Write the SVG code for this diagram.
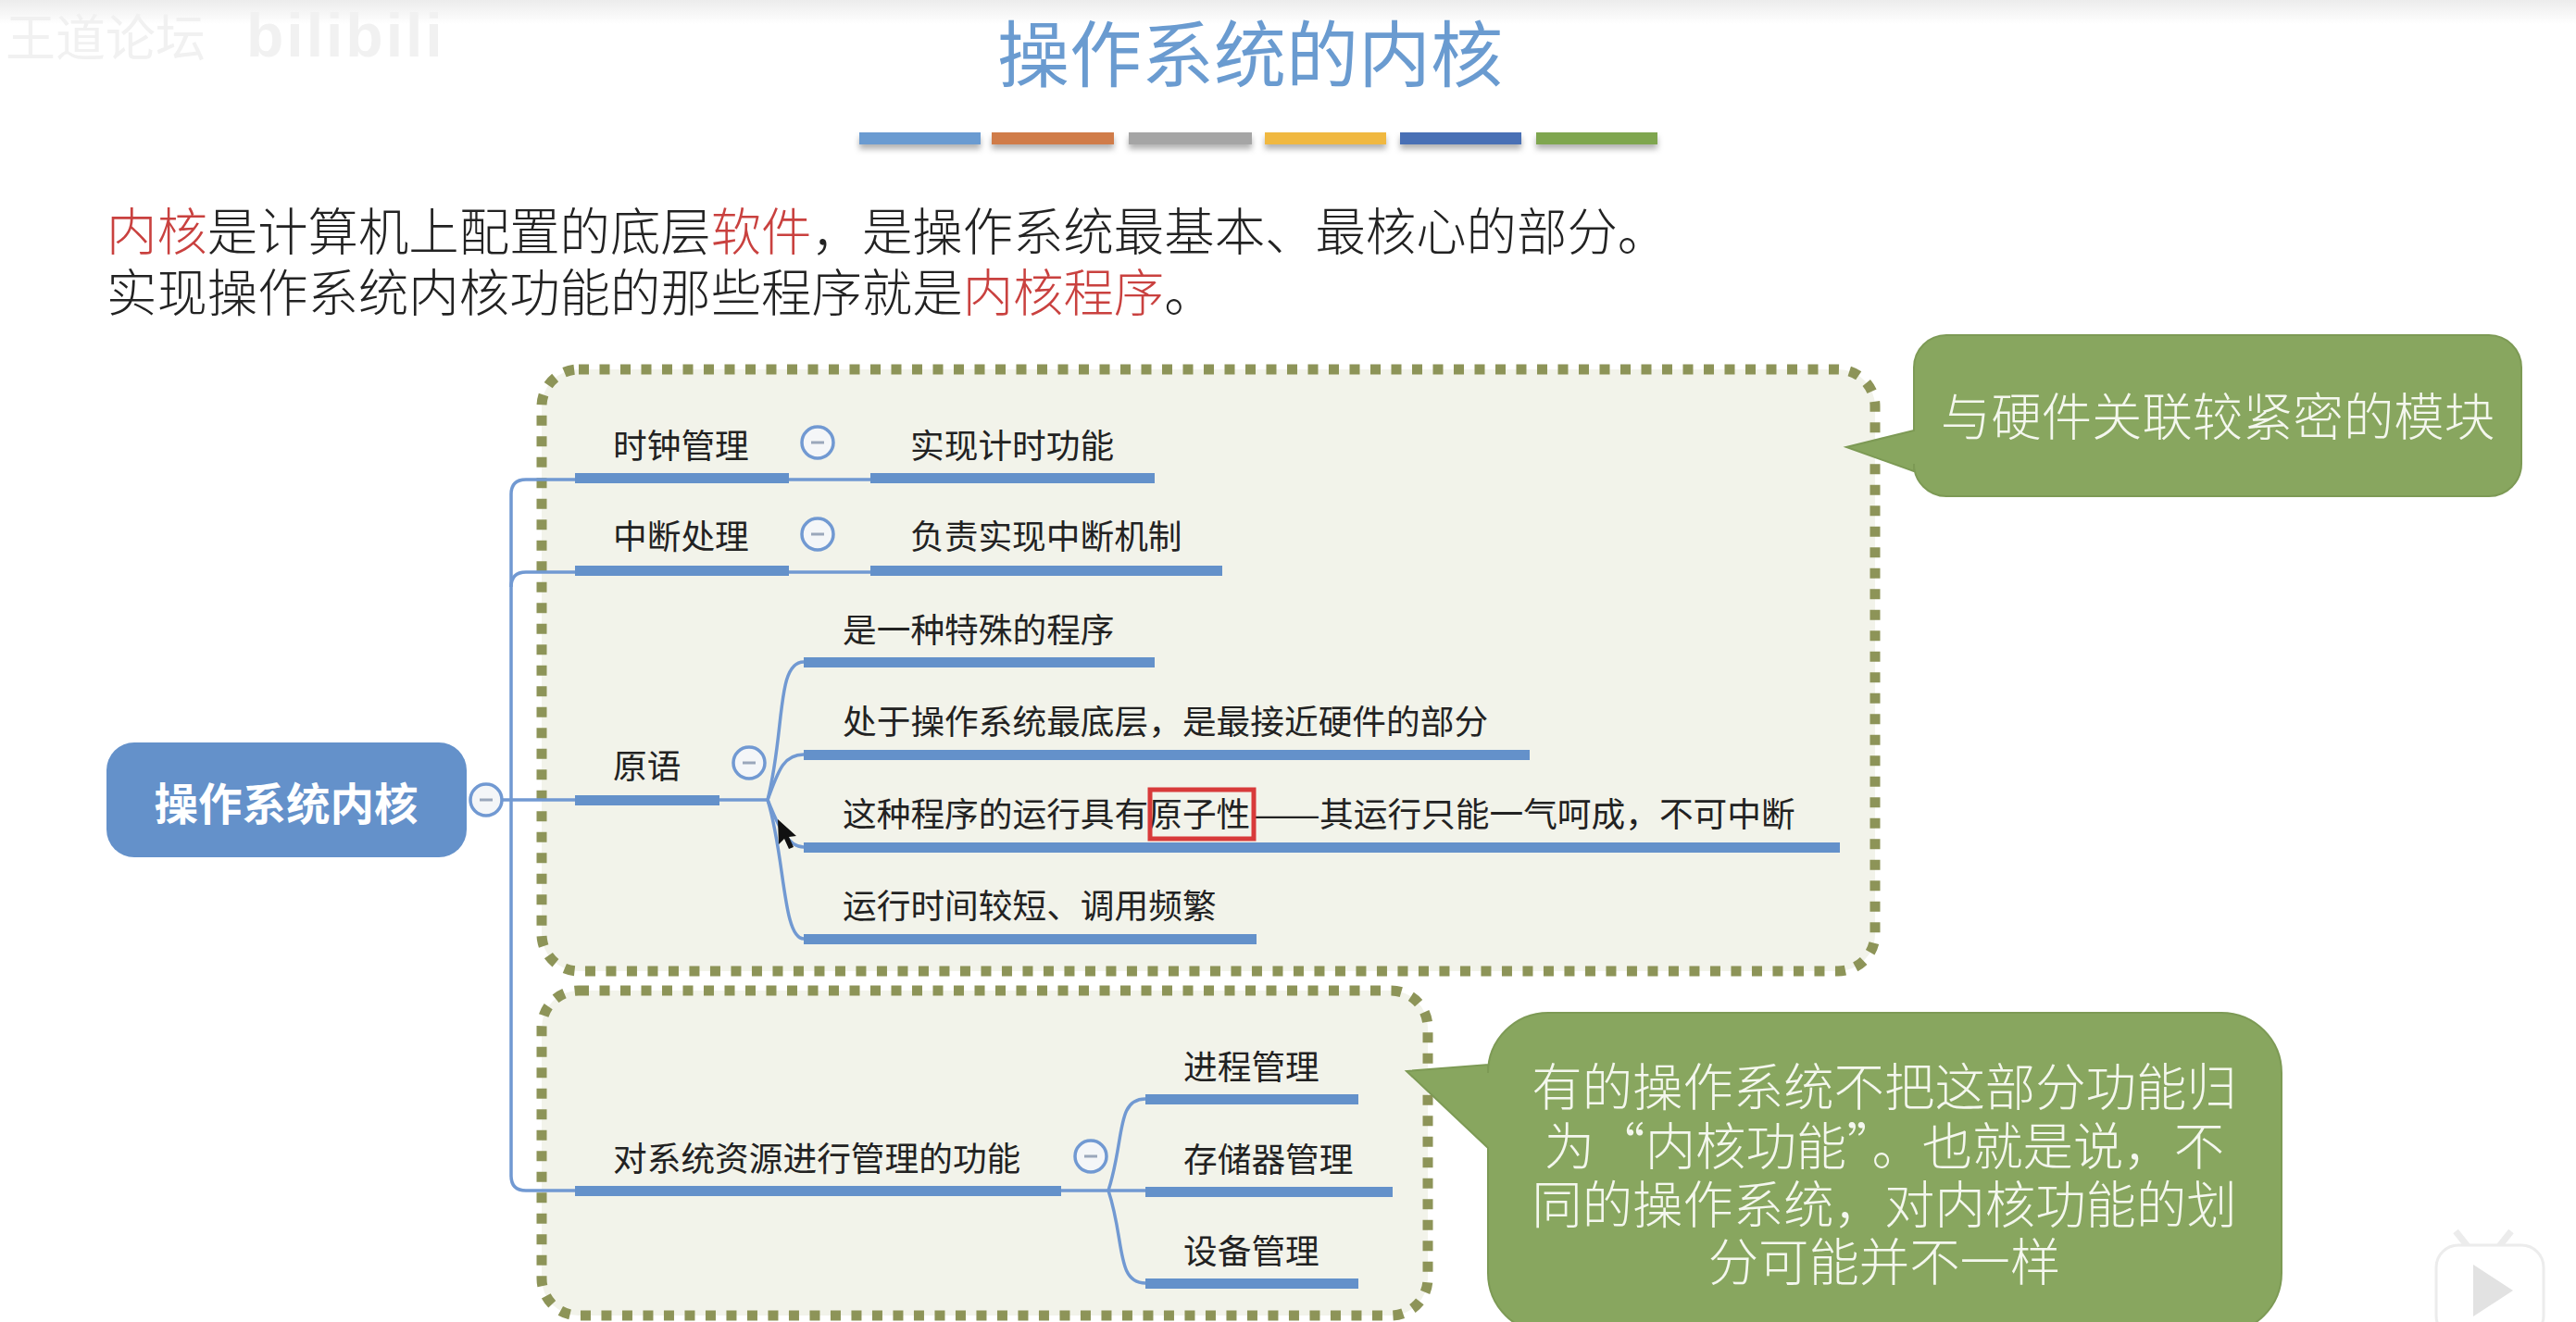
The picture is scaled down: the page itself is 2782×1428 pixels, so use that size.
<svg xmlns="http://www.w3.org/2000/svg" width="2782" height="1428" viewBox="0 0 2782 1428">
<style>
text{font-family:"Noto Sans CJK SC","Noto Sans",sans-serif;dominant-baseline:central}
.para{font-size:54.4px;font-weight:300;fill:#222}
.red{fill:#c9413f}
.n{font-size:36.7px;fill:#222}
.u{fill:#6491ca}
.c{fill:none;stroke:#7199d2;stroke-width:3.5}
.box{fill:#f2f3ea;stroke:#8d9458;stroke-width:11;stroke-dasharray:11 11.5}
.t circle{fill:#f4f6f8;stroke:#7199d2;stroke-width:3.5}
.t line{stroke:#9aa7bb;stroke-width:3}
.call{fill:#88a65f;stroke:#7d9a55;stroke-width:2}
.ct{font-size:54.4px;font-weight:300;fill:#f4f7ee;text-anchor:middle}
.wm{fill:#f1f1f1}
</style>
<defs>
<linearGradient id="top" x1="0" y1="0" x2="0" y2="1"><stop offset="0" stop-color="#ececec"/><stop offset="1" stop-color="#ffffff"/></linearGradient>
<filter id="sh" x="-10%" y="-50%" width="120%" height="250%"><feDropShadow dx="0" dy="5" stdDeviation="3" flood-color="#000" flood-opacity=".3"/></filter>
</defs>
<rect width="2782" height="1428" fill="#fff"/>
<rect width="2782" height="26" fill="url(#top)"/>
<g id="watermark">
<text class="wm" x="6" y="37" font-size="54">王道论坛</text>
<text class="wm" x="266" y="38" font-size="66" font-weight="700" letter-spacing="3" style="font-family:'Liberation Sans',sans-serif">bilibili</text>
</g>
<g id="title">
<text x="1350" y="54" font-size="78" fill="#6a9bd0" text-anchor="middle">操作系统的内核</text>
<g filter="url(#sh)">
<rect x="928" y="143" width="131" height="13" fill="#6b9bd1"/>
<rect x="1071" y="143" width="132" height="13" fill="#d07c4a"/>
<rect x="1219" y="143" width="133" height="13" fill="#a5a5a5"/>
<rect x="1366" y="143" width="131" height="13" fill="#f0b840"/>
<rect x="1512" y="143" width="131" height="13" fill="#4a6fb5"/>
<rect x="1659" y="143" width="131" height="13" fill="#7fa650"/>
</g>
</g>
<g id="intro">
<text class="para" x="115" y="246"><tspan class="red">内核</tspan>是计算机上配置的底层<tspan class="red">软件</tspan>，是操作系统最基本、最核心的部分。</text>
<text class="para" x="115" y="312">实现操作系统内核功能的那些程序就是<tspan class="red">内核程序</tspan>。</text>
</g>
<g id="frames">
<rect id="frame-1" class="box" x="585" y="399" width="1440" height="650" rx="40"/>
<rect id="frame-2" class="box" x="585" y="1070" width="957" height="351" rx="40"/>
</g>
<g id="connectors">
<path class="c" d="M525 864H829"/>
<path class="c" d="M621 518H568Q552 518 552 534V1270Q552 1286 568 1286H621"/>
<path class="c" d="M621 618H568Q552 618 552 634"/>
<path class="c" d="M852 518H940"/>
<path class="c" d="M852 618H940"/>
<path class="c" d="M829 864C848 790 838 715 868 715"/>
<path class="c" d="M829 864C840 835 845 815 868 815"/>
<path class="c" d="M829 864C838 885 848 915 868 915"/>
<path class="c" d="M829 864C848 925 845 1014 868 1014"/>
<path class="c" d="M1146 1286H1197"/>
<path class="c" d="M1197 1286C1215 1230 1205 1187 1237 1187"/>
<path class="c" d="M1197 1286H1237"/>
<path class="c" d="M1197 1286C1215 1340 1205 1386 1237 1386"/>
</g>
<g id="root">
<rect x="115" y="802" width="389" height="124" rx="30" fill="#6491ca"/>
<text x="309" y="865" font-size="47.5" font-weight="700" fill="#fff" text-anchor="middle">操作系统内核</text>
<g class="t"><circle cx="525" cy="864" r="17"/><line x1="518" y1="864" x2="532" y2="864"/></g>
</g>
<g id="node-clock">
<text class="n" x="662" y="479">时钟管理</text>
<rect class="u" x="621" y="511" width="231" height="11"/>
<g class="t"><circle cx="883" cy="478" r="17"/><line x1="876" y1="478" x2="890" y2="478"/></g>
</g>
<g id="node-clock-1"><text class="n" x="983" y="479">实现计时功能</text><rect class="u" x="940" y="511" width="307" height="11"/></g>
<g id="node-irq">
<text class="n" x="662" y="577">中断处理</text>
<rect class="u" x="621" y="611" width="231" height="11"/>
<g class="t"><circle cx="883" cy="577" r="17"/><line x1="876" y1="577" x2="890" y2="577"/></g>
</g>
<g id="node-irq-1"><text class="n" x="983" y="577">负责实现中断机制</text><rect class="u" x="940" y="611" width="380" height="11"/></g>
<g id="node-prim">
<text class="n" x="662" y="825">原语</text>
<rect class="u" x="621" y="859" width="156" height="11"/>
<g class="t"><circle cx="809" cy="824" r="17"/><line x1="802" y1="824" x2="816" y2="824"/></g>
</g>
<g id="node-prim-1"><text class="n" x="910" y="678">是一种特殊的程序</text><rect class="u" x="868" y="710" width="379" height="11"/></g>
<g id="node-prim-2"><text class="n" x="910" y="777">处于操作系统最底层，是最接近硬件的部分</text><rect class="u" x="868" y="810" width="784" height="11"/></g>
<g id="node-prim-3"><text class="n" x="910" y="877"><tspan>这种程序的运行具有原子性</tspan><tspan x="1352" textLength="74" lengthAdjust="spacingAndGlyphs">——</tspan><tspan x="1425">其运行只能一气呵成，不可中断</tspan></text><rect class="u" x="868" y="910" width="1119" height="11"/>
<rect x="1242" y="853" width="112" height="53" fill="none" stroke="#d83a3a" stroke-width="5"/></g>
<g id="node-prim-4"><text class="n" x="910" y="976">运行时间较短、调用频繁</text><rect class="u" x="868" y="1009" width="489" height="11"/></g>
<g id="node-res">
<text class="n" x="662" y="1249">对系统资源进行管理的功能</text>
<rect class="u" x="621" y="1281" width="525" height="11"/>
<g class="t"><circle cx="1178" cy="1249" r="17"/><line x1="1171" y1="1249" x2="1185" y2="1249"/></g>
</g>
<g id="node-res-1"><text class="n" x="1278" y="1150">进程管理</text><rect class="u" x="1237" y="1182" width="230" height="11"/></g>
<g id="node-res-2"><text class="n" x="1278" y="1250">存储器管理</text><rect class="u" x="1237" y="1282" width="267" height="11"/></g>
<g id="node-res-3"><text class="n" x="1278" y="1349">设备管理</text><rect class="u" x="1237" y="1381" width="230" height="11"/></g>
<g id="cursor"><path d="M840 885L841 912L847 906L852 917L857 915L852 904L860 903Z" fill="#111"/></g>
<g id="callout-1">
<path class="call" d="M2102 362H2688A35 35 0 0 1 2723 397V501A35 35 0 0 1 2688 536H2102A35 35 0 0 1 2067 501V509L1994 483L2067 465V397A35 35 0 0 1 2102 362Z"/>
<text class="ct" x="2395" y="446">与硬件关联较紧密的模块</text>
</g>
<g id="callout-2">
<path class="call" d="M1672 1094H2399A65 65 0 0 1 2464 1159V1375A65 65 0 0 1 2399 1440H1672A65 65 0 0 1 1607 1375V1240L1519 1157L1607 1150V1159A65 65 0 0 1 1672 1094Z"/>
<text class="ct" x="2035" y="1170">有的操作系统不把这部分功能归</text>
<text class="ct" x="2035" y="1234">为“内核功能”。也就是说，不</text>
<text class="ct" x="2035" y="1297">同的操作系统，对内核功能的划</text>
<text class="ct" x="2035" y="1359">分可能并不一样</text>
</g>
<g id="player-mark">
<path d="M2652 1330L2668 1350M2712 1330L2696 1350" stroke="#ececec" stroke-width="7" fill="none"/>
<rect x="2631" y="1345" width="116" height="100" rx="24" fill="#fff" stroke="#ececec" stroke-width="3"/>
<path d="M2671 1366L2714 1394L2671 1422Z" fill="#e2e2e2"/>
</g>
</svg>
